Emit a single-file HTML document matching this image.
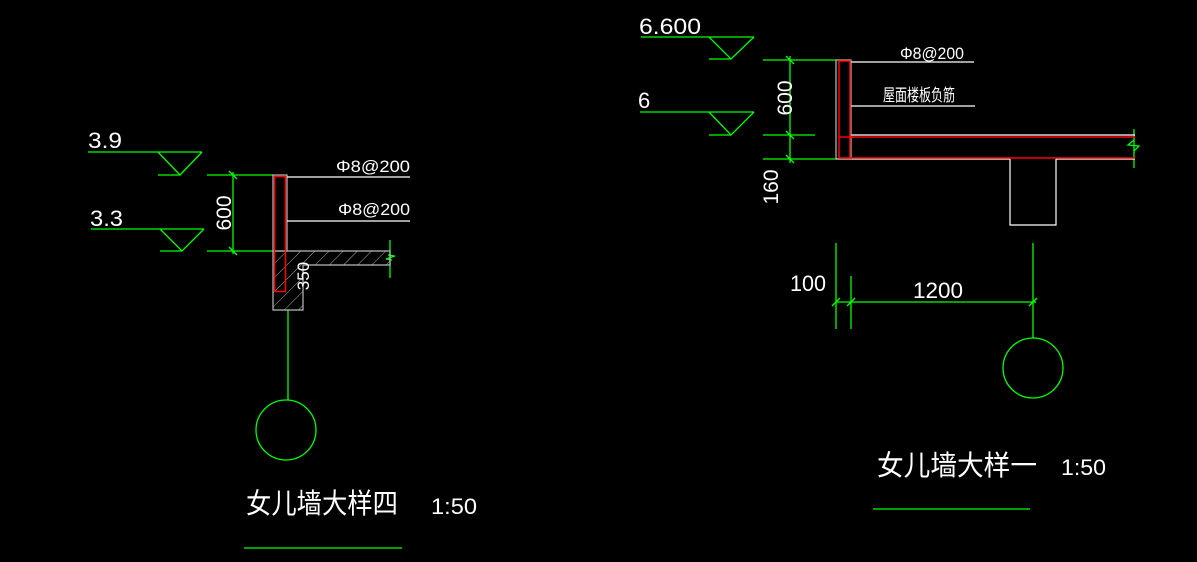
<!DOCTYPE html>
<html><head><meta charset="utf-8"><style>
html,body{margin:0;padding:0;background:#000;}
svg{display:block}
text{font-family:"Liberation Sans","Noto Sans CJK SC",sans-serif;fill:#fff;font-weight:normal}
</style></head><body>
<svg width="1197" height="562" viewBox="0 0 1197 562" xmlns="http://www.w3.org/2000/svg">
<rect width="1197" height="562" fill="#000"/>
<defs>
<pattern id="h" width="10" height="10" patternUnits="userSpaceOnUse" patternTransform="rotate(45)">
<line x1="0" y1="0" x2="0" y2="10" stroke="#aaa" stroke-width="1"/>
</pattern>
</defs>
<g fill="none" stroke="#00ff00" stroke-width="1.3">
<line x1="88" y1="152" x2="202" y2="152"/><polyline points="158,152 180,175 202,152"/><line x1="158" y1="175" x2="180" y2="175"/>
<line x1="91" y1="229" x2="204" y2="229"/><polyline points="160,229 182,251 204,229"/><line x1="160" y1="251" x2="182" y2="251"/>
<line x1="207" y1="175" x2="273" y2="175"/><line x1="207" y1="251" x2="273" y2="251"/>
<line x1="233" y1="172" x2="233" y2="254"/>
<line x1="229" y1="171" x2="237" y2="179"/><line x1="229" y1="247" x2="237" y2="255"/>
<line x1="390" y1="240" x2="390" y2="278"/><polyline points="388,255 395,256 386,259 392,260"/>
<line x1="288" y1="310" x2="288" y2="400"/>
<circle cx="286" cy="430" r="30"/>
<line x1="244" y1="548" x2="402" y2="548"/>
<line x1="641" y1="37" x2="754" y2="37"/><polyline points="709,37 731,59 754,37"/><line x1="709" y1="59" x2="731" y2="59"/>
<line x1="640" y1="112" x2="754" y2="112"/><polyline points="709,112 731,135 754,112"/><line x1="709" y1="135" x2="731" y2="135"/>
<line x1="763" y1="60" x2="836" y2="60"/><line x1="763" y1="135" x2="815" y2="135"/><line x1="763" y1="159" x2="836" y2="159"/>
<line x1="790" y1="56" x2="790" y2="163"/>
<line x1="786" y1="56" x2="794" y2="64"/><line x1="786" y1="131" x2="794" y2="139"/><line x1="786" y1="155" x2="794" y2="163"/>
<line x1="1134" y1="129" x2="1134" y2="168"/><polyline points="1134,140 1128,145 1139,146 1134,151"/>
<line x1="836" y1="243" x2="836" y2="329"/><line x1="851" y1="276" x2="851" y2="329"/><line x1="1033" y1="243" x2="1033" y2="338"/>
<line x1="836" y1="302" x2="1036" y2="302"/>
<line x1="832" y1="306" x2="840" y2="298"/><line x1="847" y1="306" x2="855" y2="298"/><line x1="1029" y1="306" x2="1037" y2="298"/>
<circle cx="1033" cy="368" r="30"/>
<line x1="873" y1="509" x2="1030" y2="509"/>
</g>
<path d="M273,251 L273,310 L303,310 L303,265 L390,265 L390,251 Z" fill="url(#h)" stroke="#bbb" stroke-width="1.2"/>
<rect x="273" y="175" width="14" height="76" fill="none" stroke="#bbb" stroke-width="1.2"/>
<rect x="274.5" y="176.5" width="11" height="115" fill="none" stroke="#ff0000" stroke-width="1.5"/>
<g stroke="#fff" stroke-width="1.2">
<line x1="287" y1="177" x2="410" y2="177"/><line x1="287" y1="221" x2="410" y2="221"/>
<line x1="851" y1="62" x2="974" y2="62"/><line x1="851" y1="106" x2="975" y2="106"/>
<line x1="851" y1="135" x2="1135" y2="135"/><line x1="836" y1="159" x2="1010" y2="159"/><line x1="1056" y1="159" x2="1135" y2="159"/>
<polyline points="1010,159 1010,225 1056,225 1056,159" fill="none"/>
</g>
<rect x="836" y="60" width="15" height="99" fill="none" stroke="#bbb" stroke-width="1.2"/>
<g stroke="#ff0000" stroke-width="1.5" fill="none">
<polyline points="839,158 839,61 850,61 850,158"/>
<line x1="839" y1="137" x2="1135" y2="137"/><line x1="839" y1="158" x2="1135" y2="158"/>
</g>
<text x="88" y="148" font-size="22" textLength="34" lengthAdjust="spacingAndGlyphs">3.9</text>
<text x="90" y="226" font-size="22" textLength="33" lengthAdjust="spacingAndGlyphs">3.3</text>
<text transform="translate(231,213) rotate(-90)" font-size="21" text-anchor="middle">600</text>
<text x="336" y="172" font-size="17" textLength="74" lengthAdjust="spacingAndGlyphs">Φ8@200</text>
<text x="338" y="215" font-size="17" textLength="72" lengthAdjust="spacingAndGlyphs">Φ8@200</text>
<text transform="translate(309,276) rotate(-90)" font-size="17" text-anchor="middle">350</text>
<text x="246" y="513" font-size="28" textLength="152" lengthAdjust="spacingAndGlyphs">女儿墙大样四</text>
<text x="431" y="514" font-size="22" textLength="46" lengthAdjust="spacingAndGlyphs">1:50</text>
<text x="639" y="34" font-size="22" textLength="62" lengthAdjust="spacingAndGlyphs">6.600</text>
<text x="638" y="108" font-size="22">6</text>
<text transform="translate(792,98) rotate(-90)" font-size="21" text-anchor="middle">600</text>
<text transform="translate(778,187) rotate(-90)" font-size="21" text-anchor="middle">160</text>
<text x="900" y="59" font-size="17" textLength="64" lengthAdjust="spacingAndGlyphs">Φ8@200</text>
<text x="883" y="101" font-size="17" textLength="72" lengthAdjust="spacingAndGlyphs">屋面楼板负筋</text>
<text x="790" y="291" font-size="22" textLength="36" lengthAdjust="spacingAndGlyphs">100</text>
<text x="913" y="298" font-size="22" textLength="50" lengthAdjust="spacingAndGlyphs">1200</text>
<text x="877" y="475" font-size="28" textLength="160" lengthAdjust="spacingAndGlyphs">女儿墙大样一</text>
<text x="1061" y="475" font-size="22" textLength="45" lengthAdjust="spacingAndGlyphs">1:50</text>
</svg>
</body></html>
